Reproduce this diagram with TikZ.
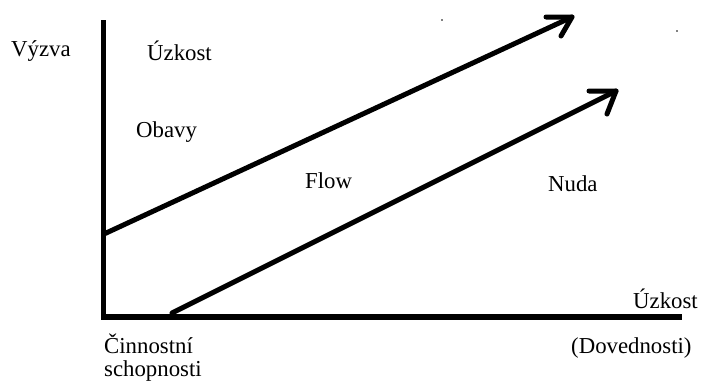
\documentclass[tikz,border=0pt]{standalone}
\usepackage{fontspec}
\setmainfont{Liberation Serif}
\begin{document}
\begin{tikzpicture}[x=1pt,y=-1pt,
  axisline/.style={line width=5.5pt},
  arrowline/.style={line width=5pt, line cap=round, line join=round},
  lbl/.style={font=\fontsize{22.8}{26}\selectfont, inner sep=0pt}]
\useasboundingbox (0,0) rectangle (701,383);
% axes
\coordinate (ytop) at (103.5,20);
\coordinate (origin) at (103.5,317);
\coordinate (xend) at (682,317);
\draw[axisline] (ytop) -- (origin |- xend) -- (xend);
% upper arrow
\coordinate (u0) at (104,234);
\coordinate (u1) at (572,17);
\coordinate (ua) at (546,17);
\coordinate (ub) at (561,36);
\draw[arrowline] (u0) -- (u1);
\draw[arrowline] (ua) -- (u1) -- (ub);
% lower arrow
\coordinate (l0) at (172,313);
\coordinate (l1) at (616,91);
\coordinate (la) at (589,91);
\coordinate (lb) at (607,114);
\draw[arrowline] (l0) -- (l1);
\draw[arrowline] (la) -- (l1) -- (lb);
% stray dots
\fill (442,20) circle (0.8);
\fill (677,31) circle (0.9);
% labels
\node[lbl, anchor=base west] (vyzva) at (11,56) {Výzva};
\node[lbl, anchor=base west] (uzkost1) at (147,60) {Úzkost};
\node[lbl, anchor=base west] (obavy) at (136,137) {Obavy};
\node[lbl, anchor=base west] (flow) at (305,188) {Flow};
\node[lbl, anchor=base west] (nuda) at (548,191) {Nuda};
\node[lbl, anchor=base east] (uzkost2) at (698,308) {Úzkost};
\node[lbl, anchor=base west] (doved) at (571,353) {(Dovednosti)};
\node[lbl, anchor=base west] (cinn) at (104,353) {Činnostní};
\node[lbl, anchor=base west] (schop) at (104,376) {schopnosti};
\end{tikzpicture}
\end{document}
